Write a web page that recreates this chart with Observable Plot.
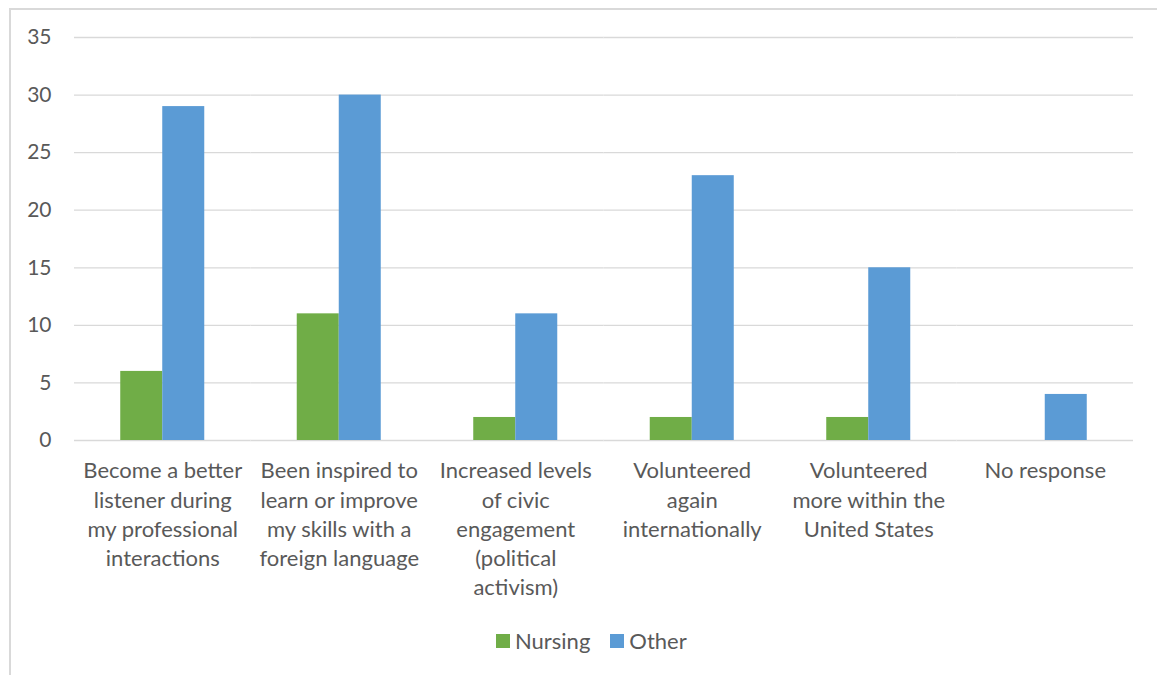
<!DOCTYPE html>
<html>
<head>
<meta charset="utf-8">
<script src="https://cdn.jsdelivr.net/npm/d3@7"></script>
<script src="https://cdn.jsdelivr.net/npm/@observablehq/plot@0.6"></script>
<style>
  html, body { margin: 0; padding: 0; background: #fff; }
  #frame { position: absolute; left: 9px; top: 8px; width: 1300px; height: 800px;
           border-left: 2px solid #d9d9d9; border-top: 2px solid #d9d9d9; pointer-events: none; }
  #chart { position: absolute; left: 0; top: 0; }
  #legend { position: absolute; left: 496px; top: 627px; display: flex; align-items: center;
            font-family: Lato, sans-serif; font-size: 22px; color: #595959; }
  #legend .item { display: flex; align-items: center; margin-right: 20px; }
  #legend .swatch { width: 14px; height: 14px; margin-right: 5px; }
</style>
</head>
<body>
<div id="chart"></div>
<div id="legend"></div>
<div id="frame"></div>
<script>
const categories = [
  "Become a better listener during my professional interactions",
  "Been inspired to learn or improve my skills with a foreign language",
  "Increased levels of civic engagement (political activism)",
  "Volunteered again internationally",
  "Volunteered more within the United States",
  "No response"
];
const tickLabels = [
  "Become a better\nlistener during\nmy professional\ninteractions",
  "Been inspired to\nlearn or improve\nmy skills with a\nforeign language",
  "Increased levels\nof civic\nengagement\n(political\nactivism)",
  "Volunteered\nagain\ninternationally",
  "Volunteered\nmore within the\nUnited States",
  "No response"
];
const nursing = [6, 11, 2, 2, 2, 0];
const other = [29, 30, 11, 23, 15, 4];
const series = ["Nursing", "Other"];
const colors = ["#70AD47", "#5B9BD5"];
const yTicks = [0, 5, 10, 15, 20, 25, 30, 35];

const data = categories.flatMap((c, i) => [
  {category: c, series: "Nursing", value: nursing[i]},
  {category: c, series: "Other", value: other[i]}
]);

// Categories tile the full width; the pair of bars sits in the middle of each
// category, with a gap of 110% of one bar's width between neighbouring groups.
const chart = Plot.plot({
  width: 1157,
  height: 615,
  marginLeft: 74,
  marginRight: 24,
  marginTop: 37,
  marginBottom: 175,
  style: {fontFamily: "Lato, sans-serif", fontSize: "20px", color: "#595959", background: "transparent"},
  fx: {domain: categories, padding: 0, round: false, label: null},
  x: {domain: series, paddingInner: 0, paddingOuter: 1.101, round: false, axis: null},
  y: {domain: [0, 35], label: null},
  color: {domain: series, range: colors},
  marks: [
    Plot.gridY(yTicks, {stroke: "#d9d9d9", strokeOpacity: 1, strokeWidth: 1.3}),
    Plot.barY(data, {fx: "category", x: "series", y: "value", fill: "series"}),
    Plot.axisY(yTicks, {tickSize: 0, tickPadding: 23, fontSize: 21, label: null, fill: "#595959"}),
    Plot.axisFx({anchor: "bottom", tickSize: 0, tickPadding: 17, fontSize: 22, lineHeight: 1.33,
                 tickFormat: c => tickLabels[categories.indexOf(c)], label: null, fill: "#595959"})
  ]
});
document.getElementById("chart").append(chart);

const legend = document.getElementById("legend");
series.forEach((s, i) => {
  const item = document.createElement("div");
  item.className = "item";
  const sw = document.createElement("span");
  sw.className = "swatch";
  sw.style.background = colors[i];
  const tx = document.createElement("span");
  tx.textContent = s;
  item.append(sw, tx);
  legend.append(item);
});
</script>
</body>
</html>
